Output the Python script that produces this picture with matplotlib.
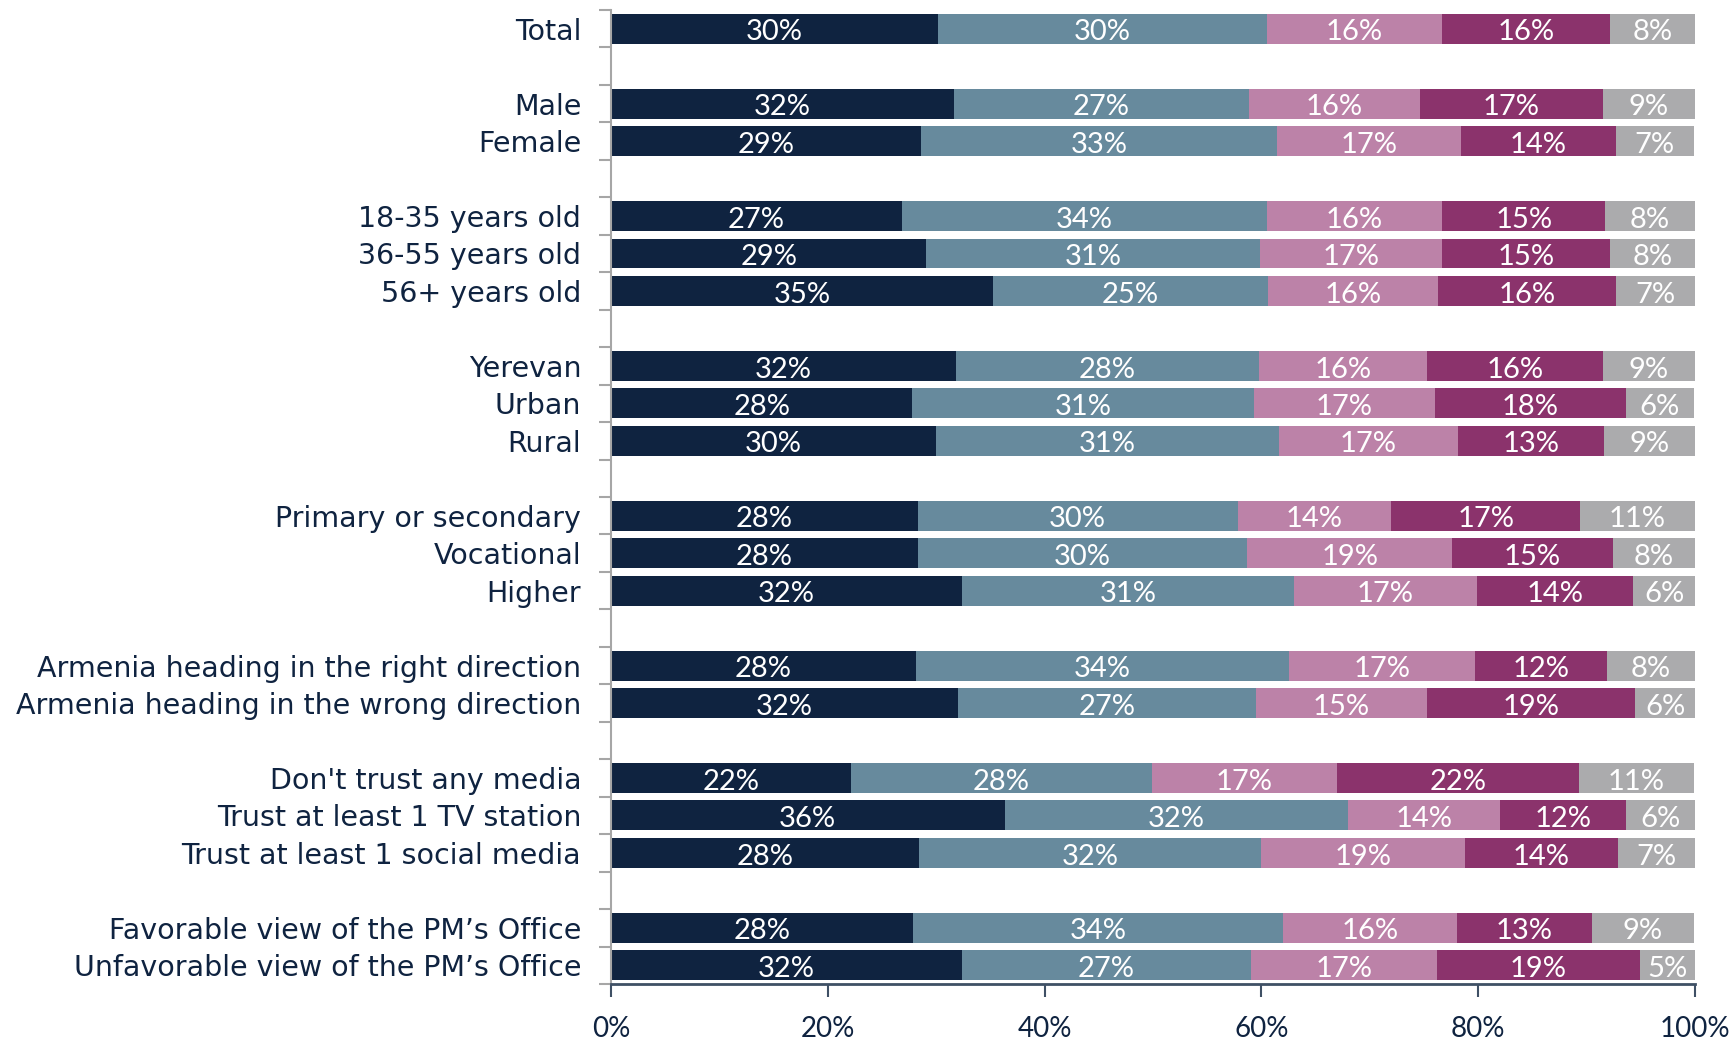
import numpy as np
import matplotlib
matplotlib.use('Agg')
import matplotlib.pyplot as plt
from matplotlib.ticker import FixedLocator, PercentFormatter

plt.rcParams['font.family'] = ['Lato', 'DejaVu Sans']

# row labels, None = blank spacer between groups
categories = [
    'Total', None,
    'Male', 'Female', None,
    '18-35 years old', '36-55 years old', '56+ years old', None,
    'Yerevan', 'Urban', 'Rural', None,
    'Primary or secondary', 'Vocational', 'Higher', None,
    'Armenia heading in the right direction', 'Armenia heading in the wrong direction', None,
    "Don't trust any media", 'Trust at least 1 TV station', 'Trust at least 1 social media', None,
    'Favorable view of the PM\u2019s Office', 'Unfavorable view of the PM\u2019s Office',
]

# segment widths, one list per series
seg1 = [30.2, 31.6, 28.6, 26.8, 29.1, 35.2, 31.8, 27.8, 30.0, 28.3, 28.3, 32.4, 28.1, 32.0, 22.1, 36.3, 28.4, 27.9, 32.4]
seg2 = [30.3, 27.3, 32.8, 33.7, 30.8, 25.4, 28.0, 31.5, 31.6, 29.5, 30.4, 30.6, 34.4, 27.5, 27.8, 31.7, 31.6, 34.1, 26.6]
seg3 = [16.2, 15.7, 17.0, 16.2, 16.8, 15.7, 15.5, 16.7, 16.5, 14.2, 18.9, 16.9, 17.2, 15.8, 17.1, 14.0, 18.8, 16.0, 17.2]
seg4 = [15.5, 16.9, 14.3, 15.0, 15.5, 16.4, 16.2, 17.6, 13.5, 17.4, 14.8, 14.4, 12.2, 19.2, 22.3, 11.6, 14.1, 12.5, 18.7]
seg5 = [7.8, 8.5, 7.2, 8.3, 7.8, 7.3, 8.5, 6.3, 8.5, 10.6, 7.6, 5.7, 8.1, 5.5, 10.6, 6.4, 7.1, 9.4, 5.1]

# percentages as printed on the bars
lab1 = [30, 32, 29, 27, 29, 35, 32, 28, 30, 28, 28, 32, 28, 32, 22, 36, 28, 28, 32]
lab2 = [30, 27, 33, 34, 31, 25, 28, 31, 31, 30, 30, 31, 34, 27, 28, 32, 32, 34, 27]
lab3 = [16, 16, 17, 16, 17, 16, 16, 17, 17, 14, 19, 17, 17, 15, 17, 14, 19, 16, 17]
lab4 = [16, 17, 14, 15, 15, 16, 16, 18, 13, 17, 15, 14, 12, 19, 22, 12, 14, 13, 19]
lab5 = [8, 9, 7, 8, 8, 7, 9, 6, 9, 11, 8, 6, 8, 6, 11, 6, 7, 9, 5]

colors = ['#0F2340', '#678A9D', '#BC82A8', '#8B336C', '#ABABAD']
text_color = '#0F2340'

ypos = [i for i, c in enumerate(categories) if c is not None]
names = [c for c in categories if c is not None]

fig = plt.figure(figsize=(17.34, 10.39), dpi=100)
ax = fig.add_axes([0.3524, 0.0529, 0.9775 - 0.3524, 0.9904 - 0.0529])

left = np.zeros(len(names))
for vals, labs, col in zip([seg1, seg2, seg3, seg4, seg5],
                           [lab1, lab2, lab3, lab4, lab5], colors):
    vals = np.array(vals)
    ax.barh(ypos, vals, left=left, height=0.8, color=col, linewidth=0)
    for y, l, v, t in zip(ypos, left, vals, labs):
        ax.text(l + v / 2, y + 0.03, f'{t}%', ha='center', va='center_baseline',
                color='white', fontsize=21)
    left += vals

ax.set_xlim(0, 100)
ax.set_ylim(len(categories) - 0.5, -0.5)

ax.set_yticks(ypos)
ax.set_yticklabels(names, fontsize=20.5, color=text_color, family='DejaVu Sans')
ax.yaxis.set_minor_locator(FixedLocator(np.arange(-0.5, len(categories), 1.0)))
ax.tick_params(axis='y', which='major', length=0, pad=21.5)
ax.tick_params(axis='y', which='minor', length=9, width=1.5, color='#A6A6A6')

ax.set_xticks(np.arange(0, 101, 20))
ax.xaxis.set_major_formatter(PercentFormatter(decimals=0))
ax.tick_params(axis='x', length=9, width=1.5, color='#3F5065',
               labelsize=20, labelcolor=text_color, pad=14)

for s in ['top', 'right']:
    ax.spines[s].set_visible(False)
ax.spines['left'].set_color('#A6A6A6')
ax.spines['left'].set_linewidth(1.5)
ax.spines['bottom'].set_color('#3F5065')
ax.spines['bottom'].set_linewidth(2)

fig.savefig('out.png', dpi=100)
